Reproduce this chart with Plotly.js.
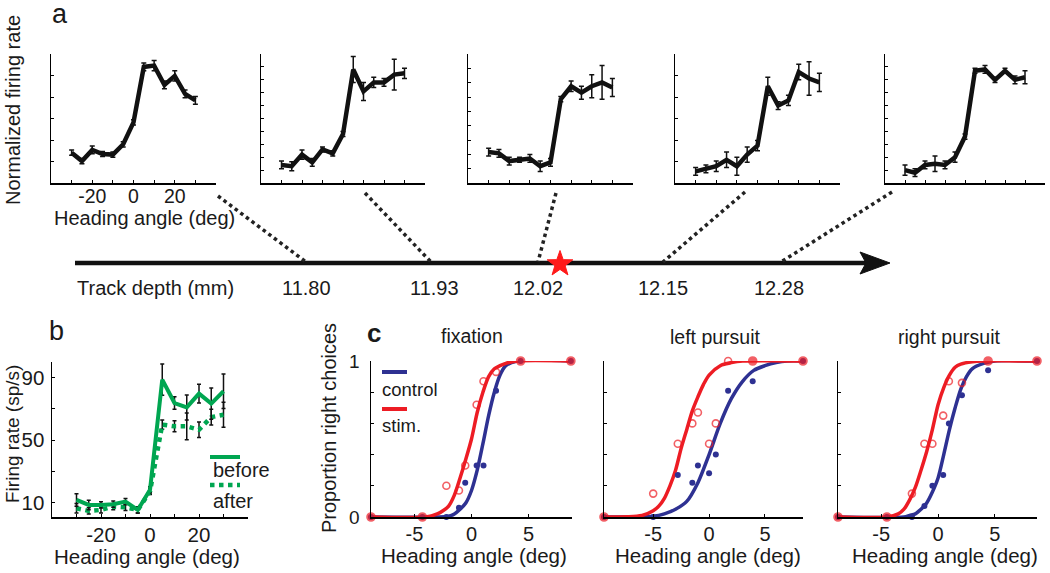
<!DOCTYPE html>
<html><head><meta charset="utf-8">
<script src="https://cdn.plot.ly/plotly-3.0.1.min.js"></script>
<style>html,body{margin:0;padding:0;background:#fff}</style>
</head><body><div id="chart" style="width:1050px;height:573px"></div>
<script>
// ---------- DATA ----------
// Panel a: normalized tuning curves at 5 track depths
const headingA = [-30,-25,-20,-15,-10,-5,0,5,10,15,20,25,30];
const depthLabels = ['11.80','11.93','12.02','12.15','12.28'];
const normRate1 = [0.235,0.17,0.256,0.225,0.22,0.30,0.47,0.90,0.91,0.76,0.83,0.69,0.64];
const normErr1  = [0.02,0.02,0.03,0.02,0.02,0.02,0.02,0.03,0.04,0.03,0.04,0.03,0.03];
const normRate2 = [0.14,0.13,0.22,0.16,0.26,0.23,0.38,0.88,0.71,0.78,0.78,0.84,0.85];
const normErr2  = [0.03,0.035,0.035,0.03,0.02,0.02,0.02,0.10,0.07,0.04,0.03,0.12,0.04];
const normRate3 = [0.24,0.23,0.17,0.18,0.19,0.13,0.16,0.65,0.75,0.70,0.75,0.78,0.74];
const normErr3  = [0.03,0.03,0.03,0.02,0.03,0.04,0.03,0.02,0.04,0.05,0.09,0.13,0.07];
const normRate4 = [0.09,0.11,0.13,0.18,0.13,0.22,0.29,0.75,0.60,0.64,0.86,0.81,0.78];
const normErr4  = [0.03,0.03,0.04,0.06,0.07,0.06,0.04,0.07,0.03,0.04,0.06,0.13,0.07];
const normRate5 = [0.10,0.08,0.14,0.15,0.14,0.20,0.36,0.87,0.88,0.80,0.87,0.80,0.82];
const normErr5  = [0.04,0.03,0.03,0.06,0.03,0.04,0.02,0.02,0.03,0.02,0.02,0.03,0.05];
const yTickStep = [1/6, 1/10, 1/9, 1/6, 1/10];

// Panel b: firing rate before / after microstimulation
const headingB = [-30,-25,-20,-15,-10,-5,0,5,10,15,20,25,30];
const rateBefore = [11.9,8.7,8.7,9.2,10.8,5.5,18.3,88.7,73.8,71,79.8,73.4,81.3];
const errBefore  = [4,3,2,2,2,2,2,10,4,8,6,10,11];
const rateAfter  = [6.6,4.9,5.5,7.7,7.2,5.5,17.3,60,58.9,58.9,56.7,64.8,66.3];
const errAfter   = [3,2,2,2,2,2,2,3,3.5,8.5,5,5,8];

// Panel c: psychometric data (proportion rightward choices)
const fixX      = [-8.8,-4.3,-2.2,-1.1,-0.55,0.45,1.05,2.15,4.3,8.7];
const fixStim   = [0,0,0.20,0.17,0.33,0.72,0.87,0.93,1,1];
const fixCtrl   = [0,0,0,0.06,0.22,0.33,0.33,0.81,1,1];
const fixStimOpen = [0,0,1,1,1,1,1,1,0,0];
const leftX     = [-9.4,-5.0,-2.8,-1.5,-1.0,0,0.6,1.7,3.9,8.4];
const leftStim  = [0,0.15,0.47,0.60,0.67,0.47,0.60,1,1,1];
const leftCtrl  = [0,0,0.27,0.22,0.33,0.28,0.40,0.81,0.87,1];
const leftStimOpen = [0,1,1,1,1,1,1,1,0,0];
const rightX    = [-8.8,-4.5,-2.3,-1.2,-0.5,0.45,0.95,2.1,4.4,8.7];
const rightStim = [0,0,0.15,0.47,0.47,0.65,0.87,0.86,1,1];
const rightCtrl = [0,0,0,0.07,0.20,0.27,0.60,0.78,0.94,1];
const rightStimOpen = [0,0,1,1,1,1,1,1,0,0];

// Panel c: fitted curves
const fixFitStimX = [-8.8,-4,-3,-2.5,-2,-1.5,-1,-0.5,0,0.5,1,1.5,2,2.5,3,4,8.7];
const fixFitStimY = [0,0,0.02,0.04,0.07,0.14,0.25,0.37,0.5,0.67,0.8,0.9,0.95,0.97,0.985,1,1];
const fixFitCtrlX = [-8.8,-3,-2,-1.5,-1,-0.5,0,0.5,1,1.5,2,2.5,3,4,8.7];
const fixFitCtrlY = [0,0,0.005,0.02,0.05,0.09,0.17,0.30,0.47,0.65,0.80,0.91,0.97,1,1];
const leftFitStimX = [-9.4,-6,-5,-4.5,-4,-3.5,-3,-2.5,-2,-1.5,-1,-0.5,0,1,2,3,8.4];
const leftFitStimY = [0,0.01,0.04,0.07,0.12,0.2,0.3,0.44,0.56,0.68,0.77,0.85,0.91,0.97,0.99,1,1];
const leftFitCtrlX = [-9.4,-5,-4,-3,-2,-1,0,1,2,3,4,5,6,7,8.4];
const leftFitCtrlY = [0,0.005,0.02,0.05,0.1,0.22,0.4,0.6,0.76,0.87,0.94,0.97,0.99,1,1];
const rightFitStimX = [-8.8,-4.5,-3.5,-3,-2.5,-2,-1.5,-1,-0.5,0,0.5,1,1.5,2,3,4,8.7];
const rightFitStimY = [0,0,0.02,0.05,0.11,0.19,0.3,0.42,0.56,0.72,0.83,0.91,0.96,0.98,0.995,1,1];
const rightFitCtrlX = [-8.8,-3,-2.5,-2,-1.5,-1,-0.5,0,0.5,1,1.5,2,2.5,3,4,5,8.7];
const rightFitCtrlY = [0,0,0.01,0.02,0.05,0.09,0.16,0.25,0.4,0.56,0.7,0.82,0.9,0.95,0.985,1,1];

// ---------- STYLE / LAYOUT ----------
const W = 1050, H = 573;
const fx = p => p / W;
const fy = p => 1 - p / H;
const FONT = 'Liberation Sans, Arial, sans-serif';
const TXT = '#1a1a1a';
const RED = '#ED1C24', BLUE = '#2E3192', GREEN = '#00A651', BLK = '#000';

function axBase(extra) {
  return Object.assign({
    showline: true, linecolor: BLK, linewidth: 1.5, mirror: false,
    zeroline: false, showgrid: false, ticks: 'inside', ticklen: 3,
    tickcolor: BLK, tickwidth: 1, fixedrange: true,
    tickfont: {family: FONT, size: 20.5, color: TXT}
  }, extra);
}

const layout = {
  width: W, height: H, margin: {l: 0, r: 0, t: 0, b: 0},
  paper_bgcolor: '#fff', plot_bgcolor: 'rgba(0,0,0,0)',
  showlegend: false, font: {family: FONT, color: TXT},
  shapes: [], annotations: []
};

// panel a plots
const aPlots = [[51, 216], [261, 425], [468, 633], [675, 840], [885, 1045]];
const aRates = [normRate1, normRate2, normRate3, normRate4, normRate5];
const aErrs = [normErr1, normErr2, normErr3, normErr4, normErr5];
const data = [];
aPlots.forEach((p, i) => {
  const n = i + 1;
  const xs = n === 1 ? '' : String(n);
  const yt = [];
  for (let k = 1; k * yTickStep[i] < 1.0001; k++) yt.push(k * yTickStep[i]);
  layout['xaxis' + xs] = axBase({
    domain: [fx(p[0]), fx(p[1])], range: [-40, 40], anchor: 'y' + xs,
    tickvals: [-30, -20, -10, 0, 10, 20, 30, 40],
    ticktext: ['', '-20', '', '0', '', '20', '', ''],
    showticklabels: n === 1, ticklabelstandoff: -5,
    tickfont: {family: FONT, size: 19.5, color: TXT}
  });
  layout['yaxis' + xs] = axBase({
    domain: [fy(183), fy(54)], range: [0, 1], anchor: 'x' + xs,
    tickvals: yt, showticklabels: false
  });
  data.push({
    type: 'scatter', mode: 'lines', x: headingA, y: aRates[i],
    xaxis: 'x' + xs, yaxis: 'y' + xs,
    line: {color: '#111', width: 4.5},
    error_y: {type: 'data', array: aErrs[i], visible: true, color: '#111', thickness: 1.5, width: 2.5}
  });
});

// panel b
layout.xaxis6 = axBase({
  domain: [fx(52), fx(248)], range: [-40, 40], anchor: 'y6',
  tickvals: [-30, -20, -10, 0, 10, 20, 30], ticktext: ['', '-20', '', '0', '', '20', ''],
  ticklabelstandoff: -1
});
layout.yaxis6 = axBase({
  domain: [fy(517), fy(362)], range: [1, 100], anchor: 'x6',
  tickvals: [10, 30, 50, 70, 90], ticktext: ['10', '', '50', '', '90'],
  ticklabelstandoff: 2
});
data.push({
  type: 'scatter', mode: 'lines', x: headingB, y: rateAfter, xaxis: 'x6', yaxis: 'y6',
  line: {color: GREEN, width: 4.5, dash: 'dot'},
  error_y: {type: 'data', array: errAfter, visible: true, color: '#111', thickness: 1.5, width: 2}
});
data.push({
  type: 'scatter', mode: 'lines', x: headingB, y: rateBefore, xaxis: 'x6', yaxis: 'y6',
  line: {color: GREEN, width: 4},
  error_y: {type: 'data', array: errBefore, visible: true, color: '#111', thickness: 1.5, width: 2}
});

// panel c
const cPlots = [
  {px: [371, 572], range: [-8.8, 8.8], x: fixX, stim: fixStim, ctrl: fixCtrl, open: fixStimOpen,
   fsx: fixFitStimX, fsy: fixFitStimY, fcx: fixFitCtrlX, fcy: fixFitCtrlY},
  {px: [604, 803], range: [-9.4, 8.4], x: leftX, stim: leftStim, ctrl: leftCtrl, open: leftStimOpen,
   fsx: leftFitStimX, fsy: leftFitStimY, fcx: leftFitCtrlX, fcy: leftFitCtrlY},
  {px: [838, 1037], range: [-8.8, 8.7], x: rightX, stim: rightStim, ctrl: rightCtrl, open: rightStimOpen,
   fsx: rightFitStimX, fsy: rightFitStimY, fcx: rightFitCtrlX, fcy: rightFitCtrlY}
];
cPlots.forEach((c, i) => {
  const n = String(7 + i);
  layout['xaxis' + n] = axBase({
    domain: [fx(c.px[0]), fx(c.px[1])], range: c.range, anchor: 'y' + n,
    tickvals: [-5, 0, 5], ticktext: ['-5', '0', '5'], ticklabelstandoff: -2,
    tickfont: {family: FONT, size: 20, color: TXT}
  });
  layout['yaxis' + n] = axBase({
    domain: [fy(517), fy(361)], range: [0, 1], anchor: 'x' + n,
    tickvals: [0, 0.2, 0.4, 0.6, 0.8, 1], ticktext: ['0', '', '', '', '', '1'],
    showticklabels: i === 0, ticklabelstandoff: 6,
    tickfont: {family: FONT, size: 19, color: TXT}
  });
  data.push({type: 'scatter', mode: 'lines', x: c.fcx, y: c.fcy, xaxis: 'x' + n, yaxis: 'y' + n,
    line: {color: BLUE, width: 3.5, shape: 'spline', smoothing: 0.8}, cliponaxis: false});
  data.push({type: 'scatter', mode: 'lines', x: c.fsx, y: c.fsy, xaxis: 'x' + n, yaxis: 'y' + n,
    line: {color: RED, width: 3.5, shape: 'spline', smoothing: 0.8}, cliponaxis: false});
  data.push({type: 'scatter', mode: 'markers', x: c.x, y: c.ctrl, xaxis: 'x' + n, yaxis: 'y' + n,
    marker: {color: BLUE, size: 6}, cliponaxis: false});
  data.push({type: 'scatter', mode: 'markers', x: c.x, y: c.stim, xaxis: 'x' + n, yaxis: 'y' + n,
    marker: {color: RED, size: c.open.map(o => o ? 7 : 8),
      symbol: c.open.map(o => o ? 'circle-open' : 'circle'), line: {width: 1.6, color: RED}},
    cliponaxis: false});
});

// ---------- decorations ----------
const S = layout.shapes, A = layout.annotations;
function ann(text, x, y, size, extra) {
  A.push(Object.assign({text: text, x: fx(x), y: fy(y), xref: 'paper', yref: 'paper',
    showarrow: false, xanchor: 'center', yanchor: 'middle',
    font: {family: FONT, size: size, color: TXT}}, extra || {}));
}
// track arrow
S.push({type: 'line', xref: 'paper', yref: 'paper', x0: fx(75), y0: fy(263), x1: fx(866), y1: fy(263),
  line: {color: '#111', width: 4.5}});
S.push({type: 'path', xref: 'paper', yref: 'paper',
  path: `M ${fx(860)} ${fy(252)} L ${fx(890)} ${fy(263)} L ${fx(860)} ${fy(274)} L ${fx(866)} ${fy(263)} Z`,
  fillcolor: '#111', line: {color: '#111', width: 1}});
// dotted connectors
[[218,196,306,262],[365,193,431,262],[556,193,538,262],[745,192,663,262],[892,192,781,262]].forEach(l => {
  S.push({type: 'line', xref: 'paper', yref: 'paper', x0: fx(l[0]), y0: fy(l[1]), x1: fx(l[2]), y1: fy(l[3]),
    line: {color: '#222', width: 3.5, dash: 'dot'}});
});
// stimulation-site star (schematic marker on the track)
(function () {
  const cx = 560, cy = 264, ro = 13.5, ri = 5.4;
  let d = '';
  for (let k = 0; k < 10; k++) {
    const r = k % 2 === 0 ? ro : ri;
    const ang = -Math.PI / 2 + k * Math.PI / 5;
    d += (k === 0 ? 'M ' : ' L ') + fx(cx + r * Math.cos(ang)) + ' ' + fy(cy + r * Math.sin(ang));
  }
  S.push({type: 'path', xref: 'paper', yref: 'paper', path: d + ' Z',
    fillcolor: '#ff1a1a', line: {color: '#ff1a1a', width: 1}});
})();
// track labels
ann('Track depth (mm)', 155, 288, 20);
[306, 434, 538, 663, 779].forEach((x, i) => ann(depthLabels[i], x, 288, 20));
// panel letters
ann('a', 60, 14, 27);
ann('b', 56, 331, 27);
ann('c', 374, 333, 26, {font: {family: FONT, size: 26, color: TXT, weight: 'bold'}});
// axis titles
ann('Normalized firing rate', 13, 110, 20, {textangle: -90});
ann('Heading angle (deg)', 144, 218, 20);
ann('Firing rate (sp/s)', 12, 434, 19, {textangle: -90});
ann('Heading angle (deg)', 147, 556, 20.5);
ann('Proportion right choices', 329, 428, 20, {textangle: -90});
ann('Heading angle (deg)', 474, 555, 20.5);
ann('Heading angle (deg)', 708, 555, 20.5);
ann('Heading angle (deg)', 945, 555, 20.5);
// panel c titles
ann('fixation', 472, 336, 19.5);
ann('left pursuit', 715, 337, 19.5);
ann('right pursuit', 949, 337, 19.5);
// panel b legend
S.push({type: 'line', xref: 'paper', yref: 'paper', x0: fx(210), y0: fy(457), x1: fx(240), y1: fy(457),
  line: {color: GREEN, width: 4}});
S.push({type: 'line', xref: 'paper', yref: 'paper', x0: fx(210), y0: fy(485), x1: fx(240), y1: fy(485),
  line: {color: GREEN, width: 4.5, dash: 'dot'}});
ann('before', 211, 470, 20, {xanchor: 'left'});
ann('after', 211, 501, 20, {xanchor: 'left'});
// panel c legend
S.push({type: 'line', xref: 'paper', yref: 'paper', x0: fx(382), y0: fy(372), x1: fx(407), y1: fy(372),
  line: {color: BLUE, width: 4}});
S.push({type: 'line', xref: 'paper', yref: 'paper', x0: fx(382), y0: fy(409), x1: fx(407), y1: fy(409),
  line: {color: RED, width: 4}});
ann('control', 380, 389, 18.5, {xanchor: 'left'});
ann('stim.', 380, 425, 18.5, {xanchor: 'left'});

Plotly.newPlot('chart', data, layout, {staticPlot: true, displayModeBar: false});
</script></body></html>
